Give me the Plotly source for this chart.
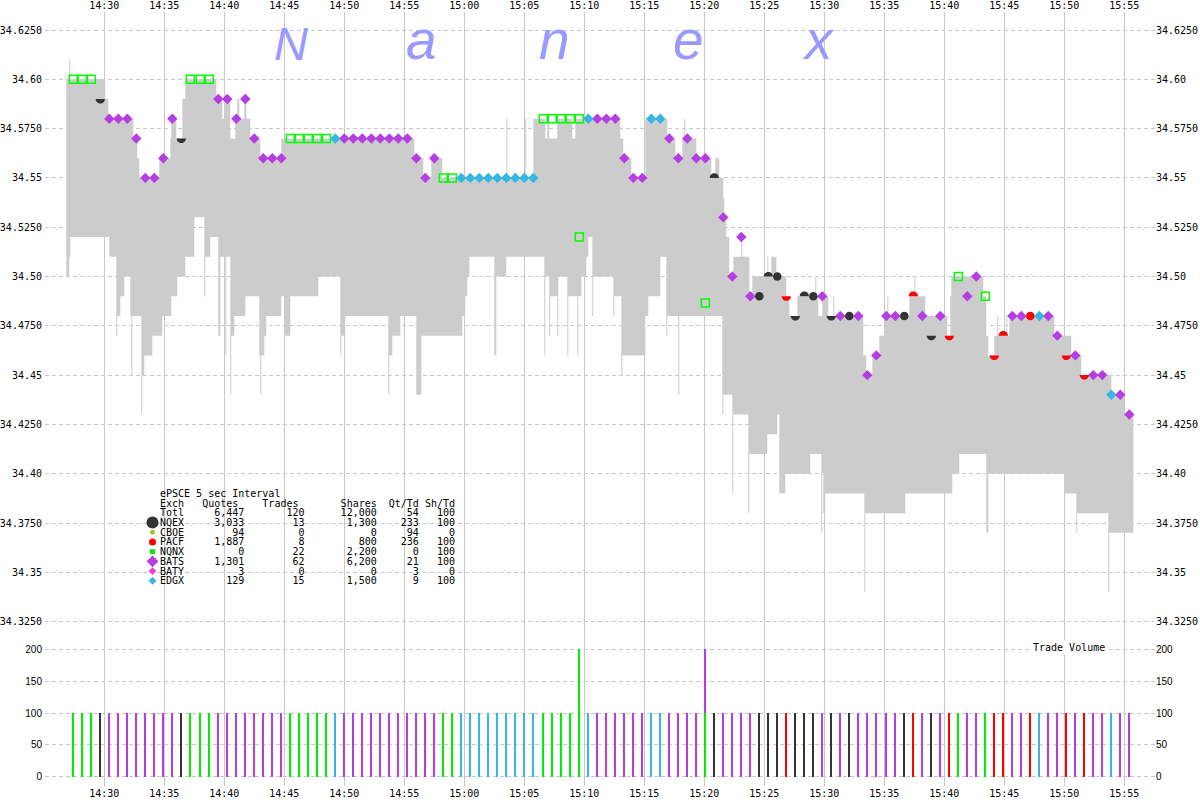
import plotly.graph_objects as go

DAY = "2011-08-05"

# ------------------------------------------------------------------ trades
trade_time = [
    "14:27:25", "14:28:10", "14:28:55", "14:29:40", "14:30:25", "14:31:10", "14:31:55", "14:32:40", "14:33:25", "14:34:10",
    "14:34:55", "14:35:40", "14:36:25", "14:37:10", "14:38:00", "14:38:45", "14:39:30", "14:40:15", "14:41:00", "14:41:45",
    "14:42:30", "14:43:15", "14:44:00", "14:44:45", "14:45:30", "14:46:15", "14:47:00", "14:47:45", "14:48:30", "14:49:15",
    "14:50:00", "14:50:45", "14:51:30", "14:52:15", "14:53:00", "14:53:45", "14:54:30", "14:55:15", "14:56:00", "14:56:45",
    "14:57:30", "14:58:15", "14:59:00", "14:59:45", "15:00:30", "15:01:15", "15:02:00", "15:02:45", "15:03:30", "15:04:15",
    "15:05:00", "15:05:45", "15:06:35", "15:07:20", "15:08:05", "15:08:50", "15:09:35", "15:09:35", "15:10:20", "15:11:05",
    "15:11:50", "15:12:35", "15:13:20", "15:14:05", "15:14:50", "15:15:35", "15:16:20", "15:17:05", "15:17:50", "15:18:35",
    "15:19:20", "15:20:05", "15:20:05", "15:20:50", "15:21:35", "15:22:20", "15:23:05", "15:23:50", "15:24:35", "15:25:20",
    "15:26:05", "15:26:50", "15:27:35", "15:28:20", "15:29:05", "15:29:50", "15:30:35", "15:31:20", "15:32:05", "15:32:50",
    "15:33:35", "15:34:20", "15:35:10", "15:35:55", "15:36:40", "15:37:25", "15:38:10", "15:38:55", "15:39:40", "15:40:25",
    "15:41:10", "15:41:55", "15:42:40", "15:43:25", "15:44:10", "15:44:55", "15:45:40", "15:46:25", "15:47:10", "15:47:55",
    "15:48:40", "15:49:25", "15:50:10", "15:50:55", "15:51:40", "15:52:25", "15:53:10", "15:53:55", "15:54:40", "15:55:25",
]
# N=NQNX  Q=NQEX  B=BATS  E=EDGX  P=PACF
trade_exch = [
    "N", "N", "N", "Q", "B", "B", "B", "B", "B", "B",
    "B", "B", "Q", "N", "N", "N", "B", "B", "B", "B",
    "B", "B", "B", "B", "N", "N", "N", "N", "N", "E",
    "B", "B", "B", "B", "B", "B", "B", "B", "B", "B",
    "B", "N", "N", "E", "E", "E", "E", "E", "E", "E",
    "E", "E", "N", "N", "N", "N", "N", "N", "E", "B",
    "B", "B", "B", "B", "B", "E", "E", "B", "B", "B",
    "B", "N", "B", "Q", "B", "B", "B", "B", "Q", "Q",
    "Q", "P", "Q", "Q", "Q", "B", "Q", "B", "Q", "B",
    "B", "B", "B", "B", "Q", "P", "B", "Q", "B", "P",
    "N", "B", "B", "N", "P", "P", "B", "B", "P", "E",
    "B", "B", "P", "B", "P", "B", "B", "E", "B", "B",
]
trade_price = [
    34.60, 34.60, 34.60, 34.59, 34.58, 34.58, 34.58, 34.57, 34.55, 34.55,
    34.56, 34.58, 34.57, 34.60, 34.60, 34.60, 34.59, 34.59, 34.58, 34.59,
    34.57, 34.56, 34.56, 34.56, 34.57, 34.57, 34.57, 34.57, 34.57, 34.57,
    34.57, 34.57, 34.57, 34.57, 34.57, 34.57, 34.57, 34.57, 34.56, 34.55,
    34.56, 34.55, 34.55, 34.55, 34.55, 34.55, 34.55, 34.55, 34.55, 34.55,
    34.55, 34.55, 34.58, 34.58, 34.58, 34.58, 34.58, 34.52, 34.58, 34.58,
    34.58, 34.58, 34.56, 34.55, 34.55, 34.58, 34.58, 34.57, 34.56, 34.57,
    34.56, 34.4865, 34.56, 34.55, 34.53, 34.50, 34.52, 34.49, 34.49, 34.50,
    34.50, 34.49, 34.48, 34.49, 34.49, 34.49, 34.48, 34.48, 34.48, 34.48,
    34.45, 34.46, 34.48, 34.48, 34.48, 34.49, 34.48, 34.47, 34.48, 34.47,
    34.50, 34.49, 34.50, 34.49, 34.46, 34.47, 34.48, 34.48, 34.48, 34.48,
    34.48, 34.47, 34.46, 34.46, 34.45, 34.45, 34.45, 34.44, 34.44, 34.43,
]
trade_size = [
    100, 100, 100, 100, 100, 100, 100, 100, 100, 100,
    100, 100, 100, 100, 100, 100, 100, 100, 100, 100,
    100, 100, 100, 100, 100, 100, 100, 100, 100, 100,
    100, 100, 100, 100, 100, 100, 100, 100, 100, 100,
    100, 100, 100, 100, 100, 100, 100, 100, 100, 100,
    100, 100, 100, 100, 100, 100, 100, 100, 100, 100,
    100, 100, 100, 100, 100, 100, 100, 100, 100, 100,
    100, 100, 100, 100, 100, 100, 100, 100, 100, 100,
    100, 100, 100, 100, 100, 100, 100, 100, 100, 100,
    100, 100, 100, 100, 100, 100, 100, 100, 100, 100,
    100, 100, 100, 100, 100, 100, 100, 100, 100, 100,
    100, 100, 100, 100, 100, 100, 100, 100, 100, 100,
]
# marker form for NQEX / PACF prints: u = upper half, d = lower half, o = full
trade_half = [
    ".", ".", ".", "d", ".", ".", ".", ".", ".", ".",
    ".", ".", "d", ".", ".", ".", ".", ".", ".", ".",
    ".", ".", ".", ".", ".", ".", ".", ".", ".", ".",
    ".", ".", ".", ".", ".", ".", ".", ".", ".", ".",
    ".", ".", ".", ".", ".", ".", ".", ".", ".", ".",
    ".", ".", ".", ".", ".", ".", ".", ".", ".", ".",
    ".", ".", ".", ".", ".", ".", ".", ".", ".", ".",
    ".", ".", ".", "u", ".", ".", ".", ".", "o", "u",
    "o", "d", "d", "u", "o", ".", "d", ".", "o", ".",
    ".", ".", ".", ".", "o", "u", ".", "d", ".", "d",
    ".", ".", ".", ".", "d", "u", ".", ".", "o", ".",
    ".", ".", "d", ".", "d", ".", ".", ".", ".", ".",
]

# ------------------------------------------------- quote range (NBBO band)
band_start = "14:26:50"
band_end = "15:55:45"
hi_time = [
    "14:26:50", "14:30:05", "14:30:20", "14:32:25", "14:32:45", "14:32:55", "14:34:35", "14:35:30", "14:35:35", "14:36:00",
    "14:36:30", "14:36:45", "14:39:20", "14:39:50", "14:40:00", "14:40:30", "14:40:55", "14:41:05", "14:41:15", "14:41:40",
    "14:41:50", "14:42:10", "14:43:00", "14:44:45", "14:55:50", "14:56:35", "14:57:15", "14:58:10", "15:05:45", "15:06:45",
    "15:06:55", "15:07:05", "15:07:45", "15:09:00", "15:09:15", "15:13:00", "15:13:15", "15:13:55", "15:15:05", "15:16:55",
    "15:17:35", "15:18:10", "15:19:20", "15:20:35", "15:20:55", "15:21:15", "15:21:35", "15:21:40", "15:21:50", "15:22:05",
    "15:22:25", "15:23:45", "15:24:00", "15:25:35", "15:26:00", "15:26:50", "15:27:05", "15:27:45", "15:29:30", "15:29:50",
    "15:30:20", "15:33:15", "15:33:30", "15:34:00", "15:34:35", "15:35:00", "15:37:05", "15:38:25", "15:40:15", "15:40:30",
    "15:40:35", "15:43:15", "15:43:30", "15:43:40", "15:44:10", "15:45:25", "15:49:10", "15:50:35", "15:51:25", "15:53:55",
    "15:55:00",
]
hi_val = [
    34.60, 34.59, 34.58, 34.57, 34.56, 34.55, 34.56, 34.57, 34.58, 34.57,
    34.59, 34.60, 34.59, 34.58, 34.59, 34.57, 34.58, 34.59, 34.58, 34.59,
    34.58, 34.57, 34.56, 34.57, 34.56, 34.55, 34.56, 34.55, 34.58, 34.57,
    34.58, 34.57, 34.58, 34.57, 34.58, 34.57, 34.56, 34.55, 34.58, 34.57,
    34.56, 34.57, 34.56, 34.55, 34.56, 34.55, 34.54, 34.53, 34.52, 34.50,
    34.51, 34.49, 34.50, 34.51, 34.50, 34.49, 34.48, 34.49, 34.48, 34.49,
    34.48, 34.46, 34.45, 34.46, 34.47, 34.48, 34.49, 34.48, 34.47, 34.49,
    34.50, 34.49, 34.47, 34.46, 34.47, 34.48, 34.47, 34.46, 34.45, 34.44,
    34.43,
]
lo_time = [
    "14:26:50", "14:27:05", "14:27:10", "14:30:25", "14:31:00", "14:31:20", "14:31:40", "14:32:10", "14:33:05", "14:33:20",
    "14:34:00", "14:34:50", "14:35:35", "14:36:05", "14:36:45", "14:37:30", "14:38:20", "14:38:50", "14:39:30", "14:39:40",
    "14:40:30", "14:40:50", "14:41:45", "14:42:55", "14:43:20", "14:43:30", "14:44:45", "14:45:00", "14:45:30", "14:47:50",
    "14:49:40", "14:50:05", "14:53:40", "14:54:00", "14:54:40", "14:56:00", "14:56:25", "14:59:50", "15:00:05", "15:00:15",
    "15:00:25", "15:02:30", "15:02:40", "15:03:30", "15:06:40", "15:07:05", "15:07:45", "15:08:35", "15:09:45", "15:10:10",
    "15:10:20", "15:10:40", "15:12:25", "15:13:05", "15:15:05", "15:15:20", "15:16:20", "15:16:50", "15:21:30", "15:21:35",
    "15:22:20", "15:23:40", "15:25:15", "15:26:05", "15:26:15", "15:26:45", "15:28:50", "15:29:45", "15:29:55", "15:30:05",
    "15:33:20", "15:36:45", "15:40:40", "15:41:15", "15:43:30", "15:43:40", "15:50:00", "15:51:00", "15:53:40",
]
lo_val = [
    34.50, 34.51, 34.52, 34.51, 34.48, 34.49, 34.50, 34.48, 34.45, 34.46,
    34.47, 34.48, 34.49, 34.50, 34.51, 34.53, 34.51, 34.52, 34.47, 34.51,
    34.47, 34.48, 34.49, 34.46, 34.47, 34.48, 34.49, 34.47, 34.49, 34.50,
    34.47, 34.48, 34.46, 34.47, 34.48, 34.44, 34.47, 34.48, 34.49, 34.50,
    34.51, 34.46, 34.50, 34.51, 34.50, 34.49, 34.50, 34.49, 34.50, 34.51,
    34.52, 34.50, 34.49, 34.46, 34.48, 34.49, 34.51, 34.48, 34.43, 34.44,
    34.43, 34.41, 34.42, 34.43, 34.39, 34.40, 34.41, 34.40, 34.38, 34.39,
    34.38, 34.39, 34.40, 34.41, 34.37, 34.40, 34.39, 34.38, 34.37,
]
# single 5-second quote excursions
spike_time = [
    "14:27:05", "14:31:00", "14:32:15", "14:33:05", "14:38:20", "14:40:05", "14:40:30", "14:43:00", "14:49:40", "14:53:40",
    "15:03:30", "15:05:05", "15:06:40", "15:07:05", "15:07:45", "15:08:35", "15:09:25", "15:10:40", "15:12:25", "15:13:05",
    "15:16:50", "15:17:50", "15:18:20", "15:22:20", "15:23:05", "15:23:40", "15:25:15", "15:29:15", "15:29:45", "15:30:45",
    "15:33:20", "15:35:15", "15:37:30", "15:44:25", "15:45:10", "15:51:00", "15:53:40",
]
spike_val = [
    34.61, 34.47, 34.45, 34.43, 34.49, 34.46, 34.44, 34.44, 34.46, 34.44,
    34.58, 34.58, 34.46, 34.47, 34.47, 34.46, 34.46, 34.48, 34.48, 34.45,
    34.47, 34.44, 34.58, 34.39, 34.52, 34.38, 34.51, 34.50, 34.37, 34.49,
    34.34, 34.49, 34.50, 34.48, 34.48, 34.37, 34.34,
]

# ------------------------------------------------------------- stats table
tbl_exch = ["Totl", "NQEX", "CBOE", "PACF", "NQNX", "BATS", "BATY", "EDGX"]
tbl_quotes = [6447, 3033, 94, 1887, 0, 1301, 3, 129]
tbl_trades = [120, 13, 0, 8, 22, 62, 0, 15]
tbl_shares = [12000, 1300, 0, 800, 2200, 6200, 0, 1500]
tbl_qt_td = [54, 233, 94, 236, 0, 21, 3, 9]
tbl_sh_td = [100, 100, 0, 100, 100, 100, 0, 100]

time_ticks = ["14:30", "14:35", "14:40", "14:45", "14:50", "14:55", "15:00", "15:05", "15:10",
              "15:15", "15:20", "15:25", "15:30", "15:35", "15:40", "15:45", "15:50", "15:55"]
price_ticks = [34.625, 34.60, 34.575, 34.55, 34.525, 34.50, 34.475, 34.45, 34.425, 34.40, 34.375, 34.35, 34.325]
price_tick_text = ["34.6250", "34.60", "34.5750", "34.55", "34.5250", "34.50", "34.4750", "34.45",
                   "34.4250", "34.40", "34.3750", "34.35", "34.3250"]
vol_ticks = [0, 50, 100, 150, 200]

# ------------------------------------------------------------------ styles
NAME = {"Q": "NQEX", "P": "PACF", "N": "NQNX", "B": "BATS", "E": "EDGX"}
COL = {"NQEX": "#333333", "PACF": "#ff0000", "NQNX": "#00ee00", "BATS": "#b53de2",
       "EDGX": "#35b6e3", "CBOE": "#99cc33", "BATY": "#e845c8"}
GRID = "#c8c8c8"
BAND = "#cccccc"
MONO = "DejaVu Sans Mono"

# plot box in pixels (for layout placement)
L, R, T, B = 45, 1155, 12, 786
PX_1430 = 104.3          # x pixel of 14:30:00, 5 s per pixel
SPLIT = 639              # pixel row separating price and volume panels
P_BOT = 34.625 - (SPLIT - 30) / 1972.0
P_TOP = 34.625 + (30 - T) / 1972.0
V_PPU = 0.637            # pixels per share in volume panel
V_ZERO = 776.7
V_BOT = -(B - V_ZERO) / V_PPU
V_TOP = (V_ZERO - SPLIT) / V_PPU


def tsec(s):
    h, m, x = s.split(":")
    return int(h) * 3600 + int(m) * 60 + float(x)


def stamp(sec):
    h = int(sec // 3600)
    m = int((sec - h * 3600) // 60)
    s = sec - h * 3600 - m * 60
    return f"{DAY} {h:02d}:{m:02d}:{s:06.3f}"


def px_time(px):
    return stamp(14 * 3600 + 30 * 60 + (px - PX_1430) * 5)


def px_price(py):
    return 34.625 - (py - 30) / 1972.0


def paper_x(px):
    return (px - L) / (R - L)


def paper_y(py):
    return (B - py) / (B - T)


# ------------------------------------------------------------ band arrays
g0, g1 = int(tsec(band_start)), int(tsec(band_end))
grid = list(range(g0, g1, 5))


def step_on_grid(times, vals):
    ts = [tsec(t) for t in times]
    out, j = [], 0
    for g in grid:
        while j + 1 < len(ts) and ts[j + 1] <= g:
            j += 1
        out.append(vals[j])
    return out


hi = step_on_grid(hi_time, hi_val)
lo = step_on_grid(lo_time, lo_val)
for t, v in zip(spike_time, spike_val):
    k = (int(tsec(t)) - g0) // 5
    if v > hi[k]:
        hi[k] = v
    if v < lo[k]:
        lo[k] = v
bx = [stamp(g) for g in grid] + [stamp(g1)]
bhi = hi + [hi[-1]]
blo = lo + [lo[-1]]

fig = go.Figure()
fig.add_trace(go.Scatter(x=bx, y=blo, mode="lines", hoverinfo="skip",
                         line=dict(width=0, shape="hv", simplify=False, color=BAND)))
fig.add_trace(go.Scatter(x=bx, y=bhi, mode="lines", hoverinfo="skip", fill="tonexty",
                         fillcolor=BAND, line=dict(width=0, shape="hv", simplify=False, color=BAND)))

# ------------------------------------------------------------ trade marks
tx = [stamp(tsec(t)) for t in trade_time]
tex = [NAME[c] for c in trade_exch]


def pick(cond):
    idx = [i for i in range(len(tx)) if cond(i)]
    return [tx[i] for i in idx], [trade_price[i] for i in idx]


x_, y_ = pick(lambda i: tex[i] == "NQNX")
fig.add_trace(go.Scatter(x=x_, y=y_, mode="markers", hoverinfo="skip",
                         marker=dict(symbol="square-open", size=8, color="#00ff00",
                                     line=dict(width=1.5, color="#00ff00"))))
for ex in ("BATS", "EDGX"):
    x_, y_ = pick(lambda i, ex=ex: tex[i] == ex)
    fig.add_trace(go.Scatter(x=x_, y=y_, mode="markers", hoverinfo="skip",
                             marker=dict(symbol="diamond", size=8, color=COL[ex], line=dict(width=0))))
for ex in ("NQEX", "PACF"):
    x_, y_ = pick(lambda i, ex=ex: tex[i] == ex and trade_half[i] == "o")
    fig.add_trace(go.Scatter(x=x_, y=y_, mode="markers", hoverinfo="skip",
                             marker=dict(symbol="circle", size=8.5, color=COL[ex], line=dict(width=0))))


def semi_path(sign, r=4.6):
    k = 0.5523 * r
    return (f"M {-r} 0 C {-r} {sign * k} {-k} {sign * r} 0 {sign * r} "
            f"C {k} {sign * r} {r} {sign * k} {r} 0 Z")


shapes = []
for i in range(len(tx)):
    if trade_half[i] in ("u", "d"):
        shapes.append(dict(type="path", xref="x", yref="y", xsizemode="pixel", ysizemode="pixel",
                           xanchor=tx[i], yanchor=trade_price[i],
                           path=semi_path(1 if trade_half[i] == "u" else -1),
                           fillcolor=COL[tex[i]], line=dict(width=0), layer="above"))

# ------------------------------------------------------------ volume bars
for ex in ("NQEX", "PACF", "NQNX", "BATS", "EDGX"):
    idx = [i for i in range(len(tx)) if tex[i] == ex]
    fig.add_trace(go.Bar(x=[tx[i] for i in idx], y=[trade_size[i] for i in idx],
                         width=[5000] * len(idx), marker=dict(color=COL[ex], line=dict(width=0)),
                         xaxis="x", yaxis="y2", hoverinfo="skip"))

# ------------------------------------------------------- legend symbols
leg_sym = {"NQEX": ("circle", 12), "CBOE": ("circle", 5), "PACF": ("circle", 7),
           "NQNX": ("square", 5), "BATS": ("diamond", 9), "BATY": ("diamond", 6), "EDGX": ("diamond", 6)}
ROW0, ROWH, TBL_X = 493.3, 9.72, 159.3
for r, name in enumerate(tbl_exch):
    if name in leg_sym:
        sym, sz = leg_sym[name]
        fig.add_trace(go.Scatter(x=[px_time(152.5)], y=[px_price(ROW0 + ROWH * (r + 2))],
                                 mode="markers", hoverinfo="skip",
                                 marker=dict(symbol=sym, size=sz, color=COL[name], line=dict(width=0))))

# dummy traces to realise the mirrored axes
fig.add_trace(go.Scatter(x=[tx[0]], y=[trade_price[0]], xaxis="x2", yaxis="y3", mode="markers",
                         marker=dict(opacity=0), hoverinfo="skip"))
fig.add_trace(go.Scatter(x=[tx[0]], y=[0], xaxis="x", yaxis="y4", mode="markers",
                         marker=dict(opacity=0), hoverinfo="skip"))

# ------------------------------------------------------------ annotations
NB = "\u00a0"
ann = []
lines = ["ePSCE 5 sec Interval",
         f"{'Exch':<4}{'Quotes':>9}{'Trades':>10}{'Shares':>13}{'Qt/Td':>7}{'Sh/Td':>6}"]
for i, name in enumerate(tbl_exch):
    lines.append(f"{name:<4}{tbl_quotes[i]:>10,}{tbl_trades[i]:>10,}{tbl_shares[i]:>12,}"
                 f"{tbl_qt_td[i]:>7,}{tbl_sh_td[i]:>6,}")
for r, ln in enumerate(lines):
    ann.append(dict(text=ln.replace(" ", NB), xref="paper", yref="paper",
                    x=paper_x(TBL_X - 1), y=paper_y(ROW0 + ROWH * r), xanchor="left", yanchor="middle",
                    showarrow=False, font=dict(family=MONO, size=10, color="black")))

ann.append(dict(text="Trade" + NB + "Volume", xref="paper", yref="paper", x=paper_x(1031), y=paper_y(647.5),
                xanchor="left", yanchor="middle", showarrow=False, bgcolor="white",
                font=dict(family=MONO, size=10, color="black")))

for ch, cx, fs in (("N", 291, 47), ("a", 421, 55), ("n", 554, 55), ("e", 688, 55), ("x", 818, 55)):
    ann.append(dict(text=ch, xref="paper", yref="paper", x=paper_x(cx), y=paper_y(59.5 - 0.3465 * fs),
                    xanchor="center", yanchor="middle", showarrow=False,
                    font=dict(family="Liberation Sans", size=fs, color="#9999ff", style="italic")))

# ----------------------------------------------------------------- layout
tick_dt = [f"{DAY} {t}:00" for t in time_ticks]
xr = [px_time(L), px_time(R)]
dom_split = paper_y(SPLIT)
axfont = dict(family=MONO, size=10, color="black")
volfont = dict(family="Liberation Sans", size=10, color="black")

fig.update_layout(
    width=1200, height=800, margin=dict(l=L, r=1200 - R, t=T, b=800 - B),
    paper_bgcolor="white", plot_bgcolor="white", showlegend=False,
    barmode="stack", bargap=0, shapes=shapes, annotations=ann,
    xaxis=dict(type="date", range=xr, anchor="y2", tickmode="array", tickvals=tick_dt, ticktext=time_ticks,
               showgrid=True, gridcolor=GRID, gridwidth=1, ticks="", showline=False, zeroline=False,
               tickfont=axfont, fixedrange=True, automargin=False),
    xaxis2=dict(type="date", range=xr, overlaying="x", side="top", anchor="y", tickmode="array",
                tickvals=tick_dt, ticktext=time_ticks, showgrid=False, ticks="", showline=False,
                zeroline=False, tickfont=axfont, fixedrange=True, automargin=False),
    yaxis=dict(domain=[dom_split, 1], range=[P_BOT, P_TOP], tickmode="array", tickvals=price_ticks,
               ticktext=price_tick_text, showgrid=True, gridcolor=GRID, gridwidth=1, griddash="4px,3px",
               ticks="", showline=False, zeroline=False, tickfont=axfont, fixedrange=True, automargin=False,
               ticklabelstandoff=2),
    yaxis3=dict(overlaying="y", side="right", range=[P_BOT, P_TOP], tickmode="array", tickvals=price_ticks,
                ticktext=price_tick_text, showgrid=False, ticks="", showline=False, zeroline=False,
                tickfont=axfont, fixedrange=True, automargin=False),
    yaxis2=dict(domain=[0, dom_split], range=[V_BOT, V_TOP], tickmode="array", tickvals=vol_ticks,
                showgrid=True, gridcolor=GRID, gridwidth=1, griddash="4px,3px", ticks="", showline=False,
                zeroline=False, tickfont=volfont, fixedrange=True, automargin=False, ticklabelstandoff=2),
    yaxis4=dict(overlaying="y2", side="right", range=[V_BOT, V_TOP], tickmode="array", tickvals=vol_ticks,
                showgrid=False, ticks="", showline=False, zeroline=False, tickfont=volfont, fixedrange=True,
                automargin=False),
)

fig.write_html("out.html", config={"displayModeBar": False},
               post_script="document.body.style.margin='0px';document.body.style.padding='0px';")
